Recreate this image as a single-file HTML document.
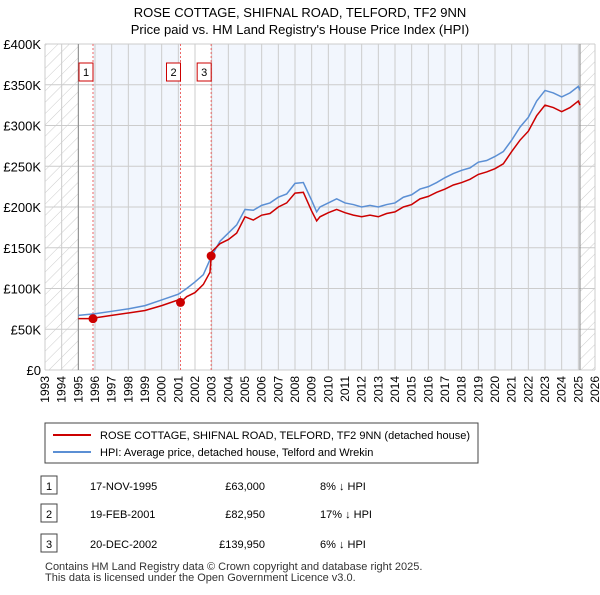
<!DOCTYPE html>
<html><head><meta charset="utf-8"><style>
body{margin:0;background:#fff;font-family:"Liberation Sans","DejaVu Sans",sans-serif;}
svg text{font-family:"Liberation Sans","DejaVu Sans",sans-serif;}
</style></head><body>
<svg id="c" width="600" height="590" xmlns="http://www.w3.org/2000/svg">
<defs><pattern id="h" width="8" height="8" patternUnits="userSpaceOnUse" patternTransform="rotate(45)"><line x1="0" y1="0" x2="0" y2="8" stroke="#ccc" stroke-width="1"/></pattern></defs>
<text x="300" y="17" font-size="13" text-anchor="middle">ROSE COTTAGE, SHIFNAL ROAD, TELFORD, TF2 9NN</text>
<text x="300" y="34" font-size="13" text-anchor="middle">Price paid vs. HM Land Registry's House Price Index (HPI)</text>
<g id="plot"></g>
<rect x="45" y="423" width="433" height="40" fill="#fff" stroke="#444"/>
<line x1="53" y1="435" x2="91" y2="435" stroke="#cc0000" stroke-width="2"/>
<text x="100" y="439" font-size="11">ROSE COTTAGE, SHIFNAL ROAD, TELFORD, TF2 9NN (detached house)</text>
<line x1="53" y1="452" x2="91" y2="452" stroke="#5b8fd4" stroke-width="2"/>
<text x="100" y="456" font-size="11">HPI: Average price, detached house, Telford and Wrekin</text>
<g id="tbl" font-size="11"></g>
<text x="45" y="570" font-size="11" fill="#333">Contains HM Land Registry data © Crown copyright and database right 2025.</text>
<text x="45" y="581" font-size="11" fill="#333">This data is licensed under the Open Government Licence v3.0.</text>
</svg>
<script>
const years=[1995,1996,1997,1998,1999,2000,2001,2001.5,2002,2002.5,2003,2003.5,2004,2004.5,2005,2005.5,2006,2006.5,2007,2007.5,2008,2008.5,2009,2009.3,2009.5,2010,2010.5,2011,2011.5,2012,2012.5,2013,2013.5,2014,2014.5,2015,2015.5,2016,2016.5,2017,2017.5,2018,2018.5,2019,2019.5,2020,2020.5,2021,2021.5,2022,2022.5,2023,2023.5,2024,2024.5,2025,2025.1];
const hpi=[67,69,72,75,79,86,93,100,108,117,140,158,168,178,197,196,202,205,212,216,229,230,208,194,200,205,210,205,203,200,202,200,203,205,212,215,222,225,230,236,241,245,248,255,257,262,268,282,298,310,330,343,340,335,340,348,343];
const redYears=[1995,1995.88,1996,1997,1998,1999,2000,2001,2001.13,2001.5,2002,2002.5,2002.9,2002.97,2003,2003.5,2004,2004.5,2005,2005.5,2006,2006.5,2007,2007.5,2008,2008.5,2009,2009.3,2009.5,2010,2010.5,2011,2011.5,2012,2012.5,2013,2013.5,2014,2014.5,2015,2015.5,2016,2016.5,2017,2017.5,2018,2018.5,2019,2019.5,2020,2020.5,2021,2021.5,2022,2022.5,2023,2023.5,2024,2024.5,2025,2025.1];
const red=[63,63,64,67,70,73,79,86,82.95,90,95,105,120,139.95,145,155,160,168,188,184,190,192,200,205,217,218,195,183,188,193,197,193,190,188,190,188,192,194,200,203,210,213,218,222,227,230,234,240,243,247,253,268,282,293,312,325,322,317,322,330,325];
const saleYears=[1995.88,2001.13,2002.97];
const salePrices=[63,82.95,139.95];
const saleLabels=["1","2","3"];
const saleDates=["17-NOV-1995","19-FEB-2001","20-DEC-2002"];
const salePriceText=["£63,000","£82,950","£139,950"];
const saleHpi=["8% ↓ HPI","17% ↓ HPI","6% ↓ HPI"];
const yTicks=[0,50,100,150,200,250,300,350,400];
const yTickLabels=["£0","£50K","£100K","£150K","£200K","£250K","£300K","£350K","£400K"];
const NS="http://www.w3.org/2000/svg";
const X0=45,X1=595,Y0=370,Y1=44,YMIN=1993,YMAX=2026,VMAX=400;
const x=y=>X0+(y-YMIN)/(YMAX-YMIN)*(X1-X0);
const yv=v=>Y0-v/VMAX*(Y0-Y1);
const g=document.getElementById('plot');
function el(t,a,p){const e=document.createElementNS(NS,t);for(const k in a)e.setAttribute(k,a[k]);(p||g).appendChild(e);return e;}
const dataEnd=2025.1;
let r;
r=el('rect',{x:X0,y:Y1,width:x(1995)-X0,height:Y0-Y1,fill:'url(#h)'});

r=el('rect',{x:x(dataEnd),y:Y1,width:X1-x(dataEnd),height:Y0-Y1,fill:'url(#h)'});

r=el('rect',{x:x(saleYears[0]),y:Y1,width:x(saleYears[1])-x(saleYears[0]),height:Y0-Y1,fill:'#f2f6fd'});

r=el('rect',{x:x(saleYears[2]),y:Y1,width:x(dataEnd)-x(saleYears[2]),height:Y0-Y1,fill:'#f2f6fd'});

for(let yr=YMIN;yr<=YMAX;yr++){
 const l=el('line',{x1:x(yr),x2:x(yr),y1:Y1,y2:Y0,stroke:'#ccc','stroke-width':1});
 
 const t=el('text',{x:x(yr)+4,y:Y0+6,'font-size':12,transform:`rotate(-90 ${x(yr)+4} ${Y0+6})`,'text-anchor':'end'});
 t.textContent=yr;
}
yTicks.forEach((v,i)=>{
 const l=el('line',{x1:X0,x2:X1,y1:yv(v),y2:yv(v),stroke:'#ccc','stroke-width':1});
 
 const t=el('text',{x:X0-4,y:yv(v)+5,'font-size':13,'text-anchor':'end'});
 t.textContent=yTickLabels[i];
});
r=el('line',{x1:x(1995),x2:x(1995),y1:Y1,y2:Y0,stroke:'#888'});
r=el('line',{x1:x(dataEnd),x2:x(dataEnd),y1:Y1,y2:Y0,stroke:'#888'});
saleYears.forEach((s,i)=>{
 const l=el('line',{x1:x(s),x2:x(s),y1:Y1,y2:Y0,stroke:'#e66','stroke-width':1,'stroke-dasharray':'2,2'});
 
 const b=el('rect',{x:x(s)-14,y:63,width:14,height:18,fill:'#fff',stroke:'#c00'});
 
 const t=el('text',{x:x(s)-7,y:76,'font-size':11,'text-anchor':'middle'});
 t.textContent=saleLabels[i];
});
const p1=el('polyline',{points:years.map((yr,i)=>x(yr)+','+yv(hpi[i])).join(' '),fill:'none',stroke:'#5b8fd4','stroke-width':1.5});

const p2=el('polyline',{points:redYears.map((yr,i)=>x(yr)+','+yv(red[i])).join(' '),fill:'none',stroke:'#cc0000','stroke-width':1.5});

saleYears.forEach((s,i)=>{
 const c=el('circle',{cx:x(s),cy:yv(salePrices[i]),r:4.5,fill:'#cc0000'});
 
});
const tb=document.getElementById('tbl');
const rowY=[486,514,544];
saleLabels.forEach((lb,i)=>{
 const b=el('rect',{x:41,y:rowY[i]-10,width:16,height:18,fill:'#fff',stroke:'#444'},tb);
 
 const cells=[[49,lb,'middle'],[90,saleDates[i],'start'],[265,salePriceText[i],'end'],[320,saleHpi[i],'start']];
 cells.forEach(c=>{const t=el('text',{x:c[0],y:rowY[i]+4,'text-anchor':c[2]},tb);t.textContent=c[1];
  });
});
</script>
</body></html>
